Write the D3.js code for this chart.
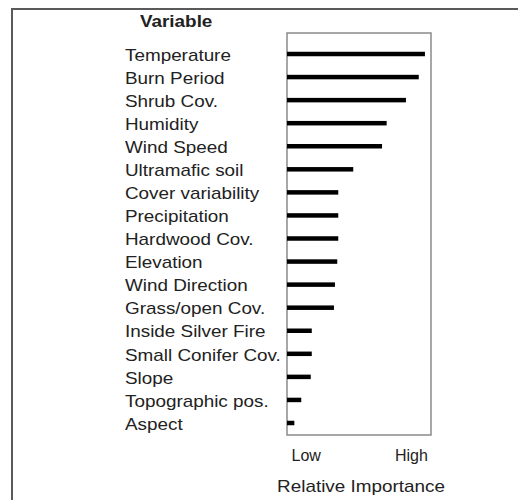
<!DOCTYPE html>
<html>
<head>
<meta charset="utf-8">
<script src="https://cdn.jsdelivr.net/npm/d3@7"></script>
<style>
  body { margin: 0; background: #fff; }
  text { font-family: "Liberation Sans", Arial, sans-serif; fill: #222; }
</style>
</head>
<body>
<svg id="chart" width="518" height="500"></svg>
<script>
// variables, top to bottom
var variables = ["Temperature", "Burn Period", "Shrub Cov.", "Humidity", "Wind Speed",
  "Ultramafic soil", "Cover variability", "Precipitation", "Hardwood Cov.", "Elevation",
  "Wind Direction", "Grass/open Cov.", "Inside Silver Fire", "Small Conifer Cov.", "Slope",
  "Topographic pos.", "Aspect"];
// relative importance (0-100)
var importance = [95.8, 91.5, 82.6, 69.2, 66, 46, 35.6, 35.6, 35.6, 34.9, 33.3, 32.6,
  17.2, 17.2, 16.5, 9.9, 5.1];
var tickLabels = ["Low", "High"];
var tickValues = [13, 86];

var data = variables.map(function(v, i) { return {name: v, value: importance[i]}; });

var svg = d3.select("#chart");
var stretch = 1.18; // the source text is a bit wider than it is tall

// outer frame (runs off the right and bottom edges)
svg.append("rect")
  .attr("x", 12).attr("y", 9)
  .attr("width", 520).attr("height", 510)
  .attr("fill", "none").attr("stroke", "#5a5a5a").attr("stroke-width", 2);

var box = {left: 287, right: 431, top: 33, bottom: 435};

var xScale = d3.scaleLinear().domain([0, 100]).range([box.left, box.right]);
var yScale = d3.scalePoint().domain(variables).range([54, 423]);

// plot box
svg.append("rect")
  .attr("x", box.left).attr("y", box.top)
  .attr("width", box.right - box.left).attr("height", box.bottom - box.top)
  .attr("fill", "none").attr("stroke", "#8a8a8a").attr("stroke-width", 1.5);

svg.append("text")
  .attr("transform", "translate(140,27) scale(" + stretch + ",1)")
  .style("font-size", "16px").style("font-weight", "bold")
  .text("Variable");

svg.selectAll(".label")
  .data(data)
  .enter().append("text")
    .attr("class", "label")
    .attr("transform", function(d) { return "translate(125," + yScale(d.name) + ") scale(" + stretch + ",1)"; })
    .attr("dy", "0.42em")
    .style("font-size", "16px")
    .text(function(d) { return d.name; });

svg.selectAll(".bar")
  .data(data)
  .enter().append("rect")
    .attr("class", "bar")
    .attr("x", xScale(0))
    .attr("y", function(d) { return yScale(d.name) - 2.25; })
    .attr("width", function(d) { return xScale(d.value) - xScale(0); })
    .attr("height", 4.5)
    .attr("fill", "#000");

var axis = svg.append("g")
  .attr("transform", "translate(0," + box.bottom + ")")
  .call(d3.axisBottom(xScale).tickValues(tickValues)
    .tickFormat(function(d, i) { return tickLabels[i]; }).tickSize(0).tickPadding(15));
axis.select(".domain").remove();
axis.selectAll("text")
  .style("font-size", "16px")
  .style("font-family", "'Liberation Sans', Arial, sans-serif")
  .attr("fill", "#222");

svg.append("text")
  .attr("transform", "translate(" + ((box.left + box.right) / 2 + 2) + ",492) scale(" + stretch + ",1)")
  .attr("text-anchor", "middle")
  .style("font-size", "16px")
  .text("Relative Importance");
</script>
</body>
</html>
